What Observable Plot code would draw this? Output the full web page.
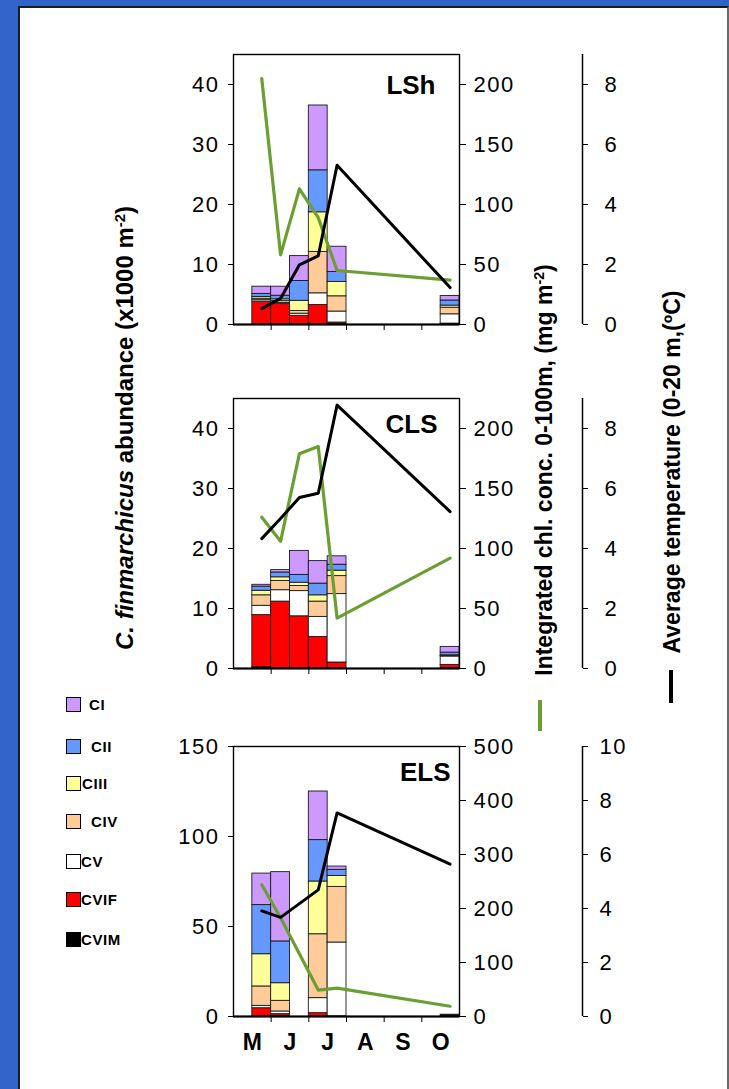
<!DOCTYPE html>
<html>
<head>
<meta charset="utf-8">
<script src="https://cdn.jsdelivr.net/npm/d3@7"></script>
<script src="https://cdn.jsdelivr.net/npm/@observablehq/plot@0.6"></script>
<style>
html, body { margin:0; padding:0; width:729px; height:1089px; overflow:hidden; background:#3264c8; font-family:"Liberation Sans", Arial, sans-serif; }
#page { position:absolute; left:18px; top:6px; width:711px; height:1100px; background:#fff; border-top:2px solid #1b1b1b; border-left:2px solid #1b1b1b; border-right:2px solid #6a6a6a; box-sizing:border-box; }
#chart { position:absolute; left:0; top:0; width:729px; height:1089px; }
#chart svg { position:absolute; left:0; }
#chart g[aria-label="y-axis tick label"] text { letter-spacing:1.5px; }
.vtitle { position:absolute; transform:translate(-50%,-50%) rotate(-90deg); white-space:nowrap; font-weight:bold; color:#000; }
.vtitle sup { font-size:0.62em; vertical-align:0.55em; line-height:0; }
.lg { position:absolute; height:15px; }
.lg .sw { position:absolute; width:13px; height:13px; border:1.5px solid #000; }
.lg .tx { position:absolute; font-size:15px; font-weight:bold; white-space:nowrap; line-height:16px; letter-spacing:0.6px; }
.mk { position:absolute; }
</style>
</head>
<body>
<div id="page"></div>
<div id="chart"></div>
<script>
// ---------- data ----------
const stages = ["CVIM", "CVIF", "CV", "CIV", "CIII", "CII", "CI"];          // stacking order (bottom -> top)
const legendStages = ["CI", "CII", "CIII", "CIV", "CV", "CVIF", "CVIM"];    // legend order
const stageColors = ["#000000", "#ff0000", "#ffffff", "#ffcc99", "#ffff99", "#6699ff", "#cc99ff"];
const months = ["M", "J", "J", "A", "S", "O"];
const sampleTime = [0.75, 1.25, 1.75, 2.25, 2.75, 5.75];   // months after 1 May (half-month sampling periods)

// LSh (abundance x1000 m-2)
const lshCVIM = [0.05, 0.05, 0.05, 0.05, 0.05, 0.05];
const lshCVIF = [3.75, 3.35, 1.4, 3.2, 0.28, 0.1];
const lshCV   = [0.25, 0.2, 0.35, 1.95, 1.83, 1.55];
const lshCIV  = [0.25, 0.3, 0.45, 6.9, 2.54, 1.1];
const lshCIII = [0.3, 0.3, 1.7, 6.6, 2.4, 0.35];
const lshCII  = [0.5, 0.6, 3.3, 7.0, 1.66, 0.85];
const lshCI   = [1.2, 1.5, 4.15, 10.8, 4.2, 0.75];
const lshChl  = [205, 58, 113, 89, 45, 37];
const lshTemp = [0.53, 0.87, 1.99, 2.29, 5.31, 1.23];

// CLS
const clsCVIM = [0.25, 0.05, 0.05, 0.05, 0.05, 0.05];
const clsCVIF = [8.65, 11.1, 8.65, 5.2, 0.95, 0.55];
const clsCV   = [1.55, 1.9, 4.2, 3.35, 11.4, 1.4];
const clsCIV  = [1.75, 1.55, 0.85, 2.55, 3.0, 0.1];
const clsCIII = [0.75, 0.6, 0.55, 1.05, 0.9, 0.1];
const clsCII  = [0.7, 0.8, 1.3, 1.95, 1.0, 0.45];
const clsCI   = [0.3, 0.4, 4.0, 3.75, 1.4, 0.95];
const clsChl  = [126, 106, 179, 185, 42, 92];
const clsTemp = [4.33, 5.0, 5.7, 5.84, 8.78, 5.23];

// ELS (no sample in late June)
const elsCVIM = [0.1, 0.3, null, 0.05, 0, 1.0];
const elsCVIF = [4.5, 1.0, null, 1.8, 0.1, 0];
const elsCV   = [1.3, 1.5, null, 8.35, 41, 0];
const elsCIV  = [10.8, 5.9, null, 35.5, 30.9, 0];
const elsCIII = [17.9, 9.8, null, 29.3, 6.1, 0];
const elsCII  = [27.3, 23.2, null, 23, 3.4, 0];
const elsCI   = [17.5, 38.5, null, 27, 1.8, 0];
const elsChl  = [244, 183, null, 49, 52.5, 19];
const elsTemp = [3.91, 3.67, null, 4.69, 7.54, 5.64];

// axis ticks
const abundTicksSmall = [0, 10, 20, 30, 40];
const abundTicksLarge = [0, 50, 100, 150];
const chlTicksSmall = [0, 50, 100, 150, 200];
const chlTicksLarge = [0, 100, 200, 300, 400, 500];
const tempTicksSmall = [0, 2, 4, 6, 8];
const tempTicksLarge = [0, 2, 4, 6, 8, 10];

// ---------- layout ----------
const W = 729;
const frameLeft = 233, frameRight = 459, tempAxisX = 582;
const frameH = 270, MT = 30, MB = 60, H = frameH + MT + MB;
const barHalf = 0.25;
const green = "#6b9f31";
const font = "'Liberation Sans', Arial, sans-serif";

const panels = [
  {name: "LSh", top: 54, arrays: [lshCVIM, lshCVIF, lshCV, lshCIV, lshCIII, lshCII, lshCI], chl: lshChl, temp: lshTemp,
   yDomain: [0, 45], yTicks: abundTicksSmall, chlDomain: [0, 225], chlTicks: chlTicksSmall, tempDomain: [0, 9], tempTicks: tempTicksSmall,
   labelDx: -24, labelDy: 31, tempPad: 17, months: false},
  {name: "CLS", top: 398, arrays: [clsCVIM, clsCVIF, clsCV, clsCIV, clsCIII, clsCII, clsCI], chl: clsChl, temp: clsTemp,
   yDomain: [0, 45], yTicks: abundTicksSmall, chlDomain: [0, 225], chlTicks: chlTicksSmall, tempDomain: [0, 9], tempTicks: tempTicksSmall,
   labelDx: -22, labelDy: 26, tempPad: 17, months: false},
  {name: "ELS", top: 746, arrays: [elsCVIM, elsCVIF, elsCV, elsCIV, elsCIII, elsCII, elsCI], chl: elsChl, temp: elsTemp,
   yDomain: [0, 150], yTicks: abundTicksLarge, chlDomain: [0, 500], chlTicks: chlTicksLarge, tempDomain: [0, 10], tempTicks: tempTicksLarge,
   labelDx: -9, labelDy: 26, tempPad: 12, months: true}
];

const monthBounds = months.slice(1).map((_, i) => i + 1);
const monthMids = months.map((_, i) => i + 0.5);

const baseStyle = {background: "transparent", overflow: "visible", fontFamily: font, fontSize: "22px", color: "#000"};
const chart = document.getElementById("chart");

function add(svg, top) {
  svg.style.top = top + "px";
  chart.appendChild(svg);
}

for (const p of panels) {
  const rows = [];
  sampleTime.forEach((t, i) => {
    stages.forEach((s, k) => {
      const v = p.arrays[k][i];
      if (v != null) rows.push({x1: t - barHalf, x2: t + barHalf, stage: s, value: v});
    });
  });
  const chlRows = sampleTime.map((t, i) => ({t, v: p.chl[i]})).filter(d => d.v != null);
  const tempRows = sampleTime.map((t, i) => ({t, v: p.temp[i]})).filter(d => d.v != null);

  const marks = [
    Plot.rectY(rows, {x1: "x1", x2: "x2", y: "value", fill: "stage", stroke: "#1a1a1a", strokeWidth: 0.9}),
    Plot.frame({stroke: "#000", strokeWidth: 1.4}),
    Plot.ruleY([0], {stroke: "#000", strokeWidth: 2.2}),
    Plot.axisY({anchor: "left", ticks: p.yTicks, tickSize: 5, tickPadding: 9, fontSize: 22, label: null}),
    Plot.axisX({anchor: "bottom", ticks: monthBounds, tickSize: 6, tickFormat: () => "", label: null}),
    Plot.text([p.name], {frameAnchor: "top-right", textAnchor: "end", lineAnchor: "middle", dx: p.labelDx, dy: p.labelDy,
                         fontWeight: "bold", fontSize: 26})
  ];
  if (p.months) {
    marks.push(Plot.axisX({anchor: "bottom", ticks: monthMids, tickSize: 0, tickPadding: 17,
                           tickFormat: d => months[Math.floor(d)], fontWeight: "bold", fontSize: 23, label: null}));
  }
  add(Plot.plot({
    width: W, height: H, marginLeft: frameLeft, marginRight: W - frameRight, marginTop: MT, marginBottom: MB,
    style: baseStyle,
    x: {domain: [0, 6]},
    y: {domain: p.yDomain},
    color: {domain: stages, range: stageColors},
    marks
  }), p.top - MT);

  // chlorophyll overlay with its own scale
  add(Plot.plot({
    width: W, height: H, marginLeft: frameLeft, marginRight: W - frameRight, marginTop: MT, marginBottom: MB,
    style: baseStyle,
    x: {domain: [0, 6], axis: null},
    y: {domain: p.chlDomain, label: null},
    marks: [
      Plot.line(chlRows, {x: "t", y: "v", stroke: green, strokeWidth: 3.2}),
      Plot.axisY({anchor: "right", ticks: p.chlTicks, tickSize: 6, tickPadding: 8, fontSize: 22, label: null})
    ]
  }), p.top - MT);

  // temperature overlay with its own scale; axis drawn further right
  const tempXMax = 6 * (tempAxisX - frameLeft) / (frameRight - frameLeft);
  add(Plot.plot({
    width: W, height: H, marginLeft: frameLeft, marginRight: W - tempAxisX, marginTop: MT, marginBottom: MB,
    style: baseStyle,
    x: {domain: [0, tempXMax], axis: null},
    y: {domain: p.tempDomain, label: null},
    marks: [
      Plot.line(tempRows, {x: "t", y: "v", stroke: "#000", strokeWidth: 3}),
      Plot.ruleX([tempXMax], {y1: p.tempDomain[0], y2: p.tempDomain[1], stroke: "#000", strokeWidth: 1.5}),
      Plot.axisY({anchor: "right", ticks: p.tempTicks, tickSize: 5, tickPadding: p.tempPad, fontSize: 22, label: null})
    ]
  }), p.top - MT);
}

// ---------- titles ----------
function vtitle(html, cx, cy, size) {
  const d = document.createElement("div");
  d.className = "vtitle";
  d.style.left = cx + "px";
  d.style.top = cy + "px";
  d.style.fontSize = size + "px";
  d.innerHTML = html;
  document.body.appendChild(d);
}
vtitle("<i>C. finmarchicus</i> abundance (x1000 m<sup>-2</sup>)", 125, 428, 24);
vtitle("Integrated chl. conc. 0-100m, (mg m<sup>-2</sup>)", 544, 470, 23);
vtitle("Average temperature (0-20 m,(ºC)", 672, 472, 23);

function marker(x, y, w, h, color) {
  const d = document.createElement("div");
  d.className = "mk";
  Object.assign(d.style, {left: x + "px", top: y + "px", width: w + "px", height: h + "px", background: color});
  document.body.appendChild(d);
}
marker(538, 700, 4, 31, green);
marker(669, 670, 4, 33, "#000");

// ---------- legend ----------
const legendY = [697, 739, 776, 814, 854, 892, 932];
const legendTextX = [89, 91, 82, 91, 81, 81, 81];
legendStages.forEach((s, i) => {
  const d = document.createElement("div");
  d.className = "lg";
  d.style.left = "66px";
  d.style.top = legendY[i] + "px";
  const sw = document.createElement("div");
  sw.className = "sw";
  sw.style.left = "0px";
  sw.style.top = "0px";
  sw.style.background = stageColors[stages.indexOf(s)];
  const tx = document.createElement("div");
  tx.className = "tx";
  tx.style.left = (legendTextX[i] - 66) + "px";
  tx.style.top = "0px";
  tx.textContent = s;
  d.appendChild(sw);
  d.appendChild(tx);
  document.body.appendChild(d);
});
</script>
</body>
</html>
